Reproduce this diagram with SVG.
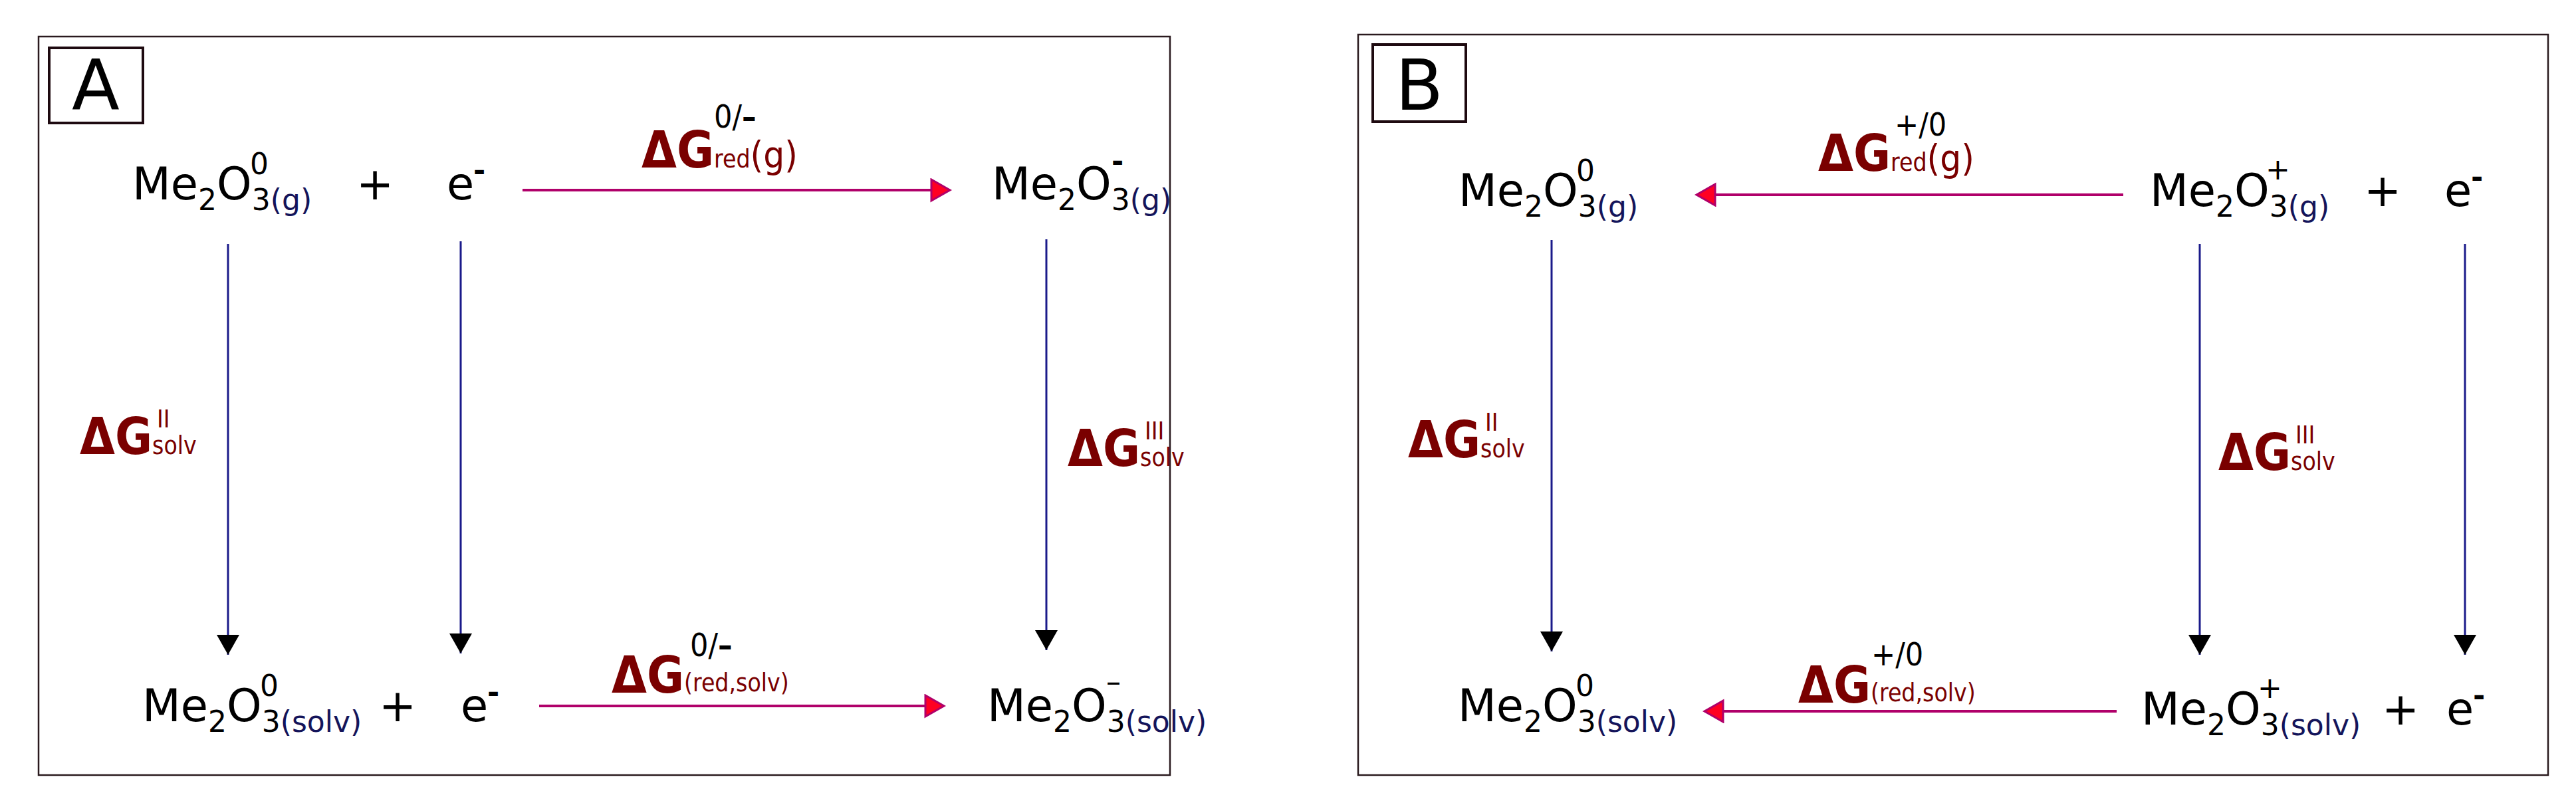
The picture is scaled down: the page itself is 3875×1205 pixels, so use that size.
<svg xmlns="http://www.w3.org/2000/svg" width="3875" height="1205" viewBox="0 0 3875 1205">
<style>
text{font-family:"DejaVu Sans",sans-serif;fill:#000}
.m{font-size:67px}
.s{font-size:44px}
.ph{font-size:44px;fill:#14145a}
.dg{font-family:"DejaVu Sans Condensed","DejaVu Sans",sans-serif;font-size:76px;font-weight:bold;fill:#7a0000}
.dgs{font-family:"DejaVu Sans Condensed","DejaVu Sans",sans-serif;font-size:37px;font-weight:normal;fill:#7a0000}
.dgp{font-size:56px;font-weight:normal;fill:#7a0000}
.sup{font-family:"DejaVu Sans Condensed","DejaVu Sans",sans-serif;font-size:48px;fill:#000}
.frame{fill:#fff;stroke:#2a1a1e;stroke-width:2.5}
.lbl{fill:#fff;stroke:#1e0a10;stroke-width:4}
.h{stroke:#b0006a;stroke-width:4;fill:none}
.v{stroke:#1a1a8a;stroke-width:3;fill:none}
</style>
<defs>
<marker id="ah" markerUnits="userSpaceOnUse" markerWidth="34" markerHeight="40" refX="30" refY="18" orient="auto"><path d="M2,2 L30,18 L2,34 Z" fill="#ff0022" stroke="#b0006a" stroke-width="3"/></marker>
<marker id="av" markerUnits="userSpaceOnUse" markerWidth="32" markerHeight="36" refX="30" refY="17" orient="auto"><path d="M0,0 L30,17 L0,34 Z" fill="#000"/></marker>
</defs>
<rect width="3875" height="1205" fill="#fff"/>
<g id="panelA">
<rect class="frame" x="58" y="55" width="1702" height="1111"/>
<rect class="lbl" x="74" y="72" width="141" height="113"/>
<text x="144" y="165" font-size="105" text-anchor="middle">A</text>
</g>
<g id="panelB">
<rect class="frame" x="2043" y="52" width="1790" height="1114"/>
<rect class="lbl" x="2065" y="67" width="140" height="116"/>
<text x="2135" y="165" font-size="105" text-anchor="middle">B</text>
</g>
<g id="connectors">
<line class="h" x1="786" y1="286" x2="1429" y2="286" marker-end="url(#ah)"/>
<line class="h" x1="811" y1="1062" x2="1420" y2="1062" marker-end="url(#ah)"/>
<line class="v" x1="343" y1="367" x2="343" y2="985" marker-end="url(#av)"/>
<line class="v" x1="693" y1="363" x2="693" y2="983" marker-end="url(#av)"/>
<line class="v" x1="1574" y1="360" x2="1574" y2="978" marker-end="url(#av)"/>
<line class="h" x1="3194" y1="293" x2="2552" y2="293" marker-end="url(#ah)"/>
<line class="h" x1="3184" y1="1070" x2="2564" y2="1070" marker-end="url(#ah)"/>
<line class="v" x1="2334" y1="361" x2="2334" y2="980" marker-end="url(#av)"/>
<line class="v" x1="3309" y1="367" x2="3309" y2="985" marker-end="url(#av)"/>
<line class="v" x1="3708" y1="367" x2="3708" y2="985" marker-end="url(#av)"/>
</g>
<g id="A_top_left">
<text class="m" x="199" y="300">Me<tspan class="s" dy="16">2</tspan><tspan dy="-16">O</tspan><tspan class="s" dy="16">3</tspan><tspan class="ph">(g)</tspan></text>
<text class="s" x="376" y="262">0</text>
<text class="m" x="536" y="300">+</text>
<text class="m" x="672" y="300">e</text><text class="s" x="712" y="272" font-weight="bold">-</text>
</g>
<g id="A_top_right">
<text class="m" x="1492" y="300">Me<tspan class="s" dy="16">2</tspan><tspan dy="-16">O</tspan><tspan class="s" dy="16">3</tspan><tspan class="ph">(g)</tspan></text>
<text class="s" x="1672" y="258" font-weight="bold">-</text>
</g>
<g id="A_bottom_left">
<text class="m" x="214" y="1085">Me<tspan class="s" dy="16">2</tspan><tspan dy="-16">O</tspan><tspan class="s" dy="16">3</tspan><tspan class="ph">(solv)</tspan></text>
<text class="s" x="391" y="1047">0</text>
<text class="m" x="570" y="1085">+</text>
<text class="m" x="693" y="1085">e</text><text class="s" x="733" y="1057" font-weight="bold">-</text>
</g>
<g id="A_bottom_right">
<text class="m" x="1485" y="1085">Me<tspan class="s" dy="16">2</tspan><tspan dy="-16">O</tspan><tspan class="s" dy="16">3</tspan><tspan class="ph">(solv)</tspan></text>
<text class="s" x="1664" y="1041" fill="#14145a">–</text>
</g>
<g id="A_label_top">
<text class="dg" x="965" y="252">ΔG<tspan class="dgs">red</tspan><tspan class="dgp">(g)</tspan></text>
<text class="sup" x="1074" y="192">0/<tspan font-weight="bold">–</tspan></text>
</g>
<g id="A_label_bottom">
<text class="dg" x="920" y="1042">ΔG<tspan class="dgs" dy="-2">(red,solv)</tspan></text>
<text class="sup" x="1038" y="987">0/<tspan font-weight="bold">–</tspan></text>
</g>
<g id="A_label_II">
<text class="dg" x="120" y="683">ΔG<tspan class="dgs">solv</tspan></text>
<text class="dgs" x="236" y="643">II</text>
</g>
<g id="A_label_III">
<text class="dg" x="1606" y="701">ΔG<tspan class="dgs">solv</tspan></text>
<text class="dgs" x="1722" y="661">III</text>
</g>
<g id="B_top_left">
<text class="m" x="2194" y="310">Me<tspan class="s" dy="16">2</tspan><tspan dy="-16">O</tspan><tspan class="s" dy="16">3</tspan><tspan class="ph">(g)</tspan></text>
<text class="s" x="2371" y="272">0</text>
</g>
<g id="B_top_right">
<text class="m" x="3234" y="310">Me<tspan class="s" dy="16">2</tspan><tspan dy="-16">O</tspan><tspan class="s" dy="16">3</tspan><tspan class="ph">(g)</tspan></text>
<text class="s" x="3408" y="270">+</text>
<text class="m" x="3556" y="310">+</text>
<text class="m" x="3677" y="310">e</text><text class="s" x="3717" y="282" font-weight="bold">-</text>
</g>
<g id="B_bottom_left">
<text class="m" x="2193" y="1085">Me<tspan class="s" dy="16">2</tspan><tspan dy="-16">O</tspan><tspan class="s" dy="16">3</tspan><tspan class="ph">(solv)</tspan></text>
<text class="s" x="2370" y="1047">0</text>
</g>
<g id="B_bottom_right">
<text class="m" x="3221" y="1090">Me<tspan class="s" dy="16">2</tspan><tspan dy="-16">O</tspan><tspan class="s" dy="16">3</tspan><tspan class="ph">(solv)</tspan></text>
<text class="s" x="3396" y="1050">+</text>
<text class="m" x="3583" y="1090">+</text>
<text class="m" x="3680" y="1090">e</text><text class="s" x="3720" y="1062" font-weight="bold">-</text>
</g>
<g id="B_label_top">
<text class="dg" x="2735" y="257">ΔG<tspan class="dgs">red</tspan><tspan class="dgp">(g)</tspan></text>
<text class="sup" x="2850" y="204">+/0</text>
</g>
<g id="B_label_bottom">
<text class="dg" x="2705" y="1057">ΔG<tspan class="dgs" dy="-2">(red,solv)</tspan></text>
<text class="sup" x="2815" y="1001">+/0</text>
</g>
<g id="B_label_II">
<text class="dg" x="2118" y="688">ΔG<tspan class="dgs">solv</tspan></text>
<text class="dgs" x="2234" y="648">II</text>
</g>
<g id="B_label_III">
<text class="dg" x="3337" y="707">ΔG<tspan class="dgs">solv</tspan></text>
<text class="dgs" x="3453" y="667">III</text>
</g>
</svg>
